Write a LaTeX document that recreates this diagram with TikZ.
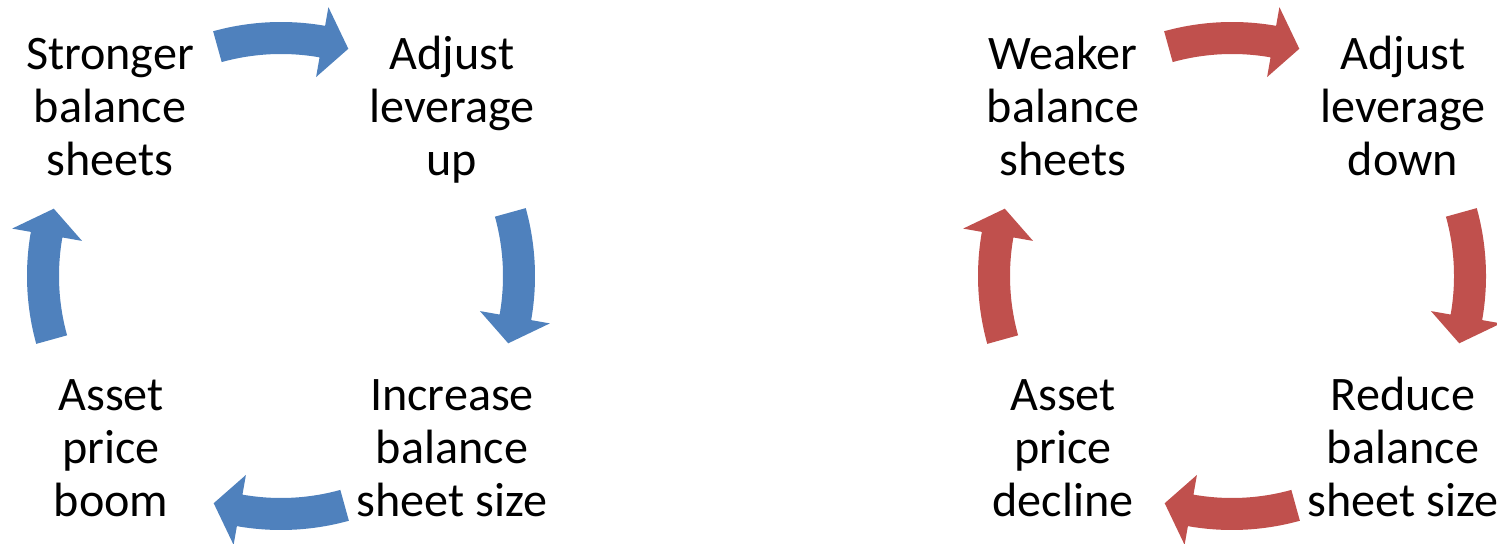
\documentclass[tikz,border=0pt]{standalone}
\usepackage{fontspec}
\setmainfont{Carlito}
\definecolor{cycleblue}{HTML}{4F81BD}
\definecolor{cyclered}{HTML}{C0504D}
\tikzset{
  % curved block arrow on a circle, drawn at the top of the circle, pointing clockwise
  cyclearrow/.pic={
    \fill[pic actions] (105.5:254) arc[start angle=105.5, end angle=80, radius=254]
      -- (80:273) -- (73.5:237) -- (80:202) -- (80:222)
      arc[start angle=80, end angle=105.5, radius=222] -- cycle;
  },
  label/.style={align=center, inner sep=0pt,
    font=\fontsize{27.4}{30.1}\selectfont}
}
\begin{document}
\begin{tikzpicture}[x=0.02cm, y=0.02cm]
  \useasboundingbox (0,0) rectangle (1497,544);
  % centres of the two cycles
  \coordinate (cl) at (281,268);
  \coordinate (cr) at (1232,268);

  % leverage cycle in a boom
  \node[label] (strong) at (110,432) {\strut Stronger\\balance\\sheets\strut};
  \node[label] (levup)  at (452,432) {\strut Adjust\\leverage\\up\strut};
  \node[label] (incr)   at (452,91)  {\strut Increase\\balance\\sheet size\strut};
  \node[label] (boom)   at (111,91)  {\strut Asset\\price\\boom\strut};
  \pic[fill=cycleblue]             at (cl) {cyclearrow};
  \pic[fill=cycleblue, rotate=-90]  at (cl) {cyclearrow};
  \pic[fill=cycleblue, rotate=-180] at (cl) {cyclearrow};
  \pic[fill=cycleblue, rotate=-270] at (cl) {cyclearrow};

  % leverage cycle in a bust
  \node[label] (weak)    at (1063,432) {\strut Weaker\\balance\\sheets\strut};
  \node[label] (levdown) at (1403,432) {\strut Adjust\\leverage\\down\strut};
  \node[label] (reduce)  at (1403,91)  {\strut Reduce\\balance\\sheet size\strut};
  \node[label] (decline) at (1063,91)  {\strut Asset\\price\\decline\strut};
  \pic[fill=cyclered]             at (cr) {cyclearrow};
  \pic[fill=cyclered, rotate=-90]  at (cr) {cyclearrow};
  \pic[fill=cyclered, rotate=-180] at (cr) {cyclearrow};
  \pic[fill=cyclered, rotate=-270] at (cr) {cyclearrow};
\end{tikzpicture}
\end{document}
